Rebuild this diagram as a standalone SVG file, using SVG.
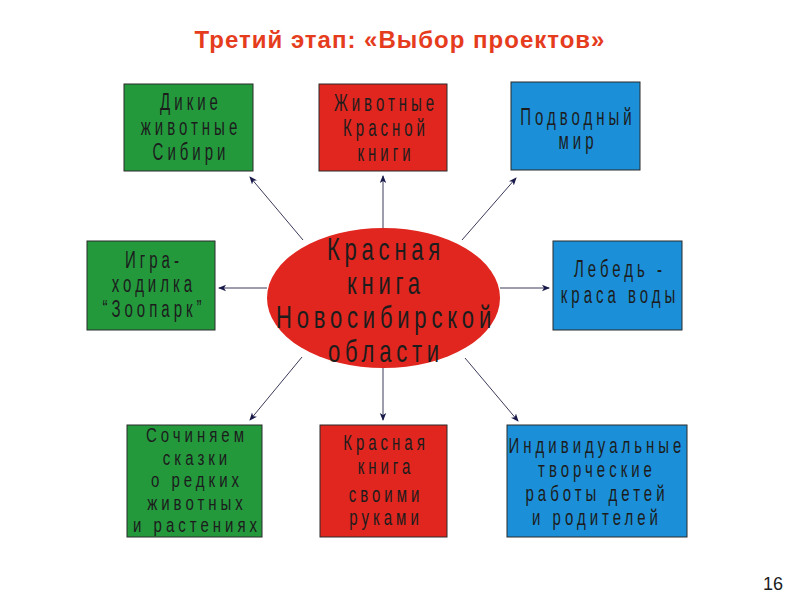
<svg xmlns="http://www.w3.org/2000/svg" width="800" height="600" viewBox="0 0 800 600">
<defs>
<style>
.t{font-family:"Liberation Sans",Arial,sans-serif;font-size:15px;fill:#1c1c1c;text-anchor:middle;letter-spacing:4px}
.e{font-family:"Liberation Sans",Arial,sans-serif;font-size:22px;fill:#1c1c1c;text-anchor:middle;letter-spacing:4.8px}
.g{fill:#23993c;stroke:#2a2a2a;stroke-width:1}
.r{fill:#e0261f;stroke:#2a2a2a;stroke-width:1}
.b{fill:#1b90d8;stroke:#2a2a2a;stroke-width:1}
.c{stroke:#3a3a5a;stroke-width:1;fill:none;marker-end:url(#ah)}
</style>
<marker id="ah" markerWidth="8" markerHeight="8" refX="7" refY="4" orient="auto" markerUnits="userSpaceOnUse">
<path d="M0,0.8 L8,4 L0,7.2 L2,4 Z" fill="#1a1a4a"/>
</marker>
</defs>
<rect width="800" height="600" fill="#ffffff"/>
<text x="400" y="48" text-anchor="middle" font-family="Liberation Sans,Arial,sans-serif" font-size="24" font-weight="bold" letter-spacing="1" fill="#e63c1e">Третий этап: «Выбор проектов»</text>

<g id="connectors">
<line class="c" x1="303" y1="240" x2="250" y2="177"/>
<line class="c" x1="383" y1="228" x2="383" y2="176"/>
<line class="c" x1="462" y1="240" x2="516" y2="178"/>
<line class="c" x1="267" y1="288" x2="219" y2="288"/>
<line class="c" x1="500" y1="288" x2="549" y2="288"/>
<line class="c" x1="302" y1="357" x2="250" y2="420"/>
<line class="c" x1="383" y1="368" x2="383" y2="420"/>
<line class="c" x1="465" y1="358" x2="518" y2="421"/>
</g>

<g id="center">
<ellipse cx="383.5" cy="298" rx="116.5" ry="70" fill="#e0261f"/>
<text class="e" transform="translate(386 260) scale(1 1.45)">Красная</text>
<text class="e" transform="translate(386 294) scale(1 1.45)">книга</text>
<text class="e" transform="translate(386 328) scale(1 1.45)">Новосибирской</text>
<text class="e" transform="translate(386 362) scale(1 1.45)">области</text>
</g>

<g id="n1">
<rect class="g" x="124" y="84" width="129" height="87"/>
<text class="t" transform="translate(191 110) scale(1 1.55)">Дикие</text>
<text class="t" transform="translate(191 135) scale(1 1.55)">животные</text>
<text class="t" transform="translate(191 160) scale(1 1.55)">Сибири</text>
</g>

<g id="n2">
<rect class="r" x="319" y="84" width="128" height="87"/>
<text class="t" transform="translate(386 111) scale(1 1.55)">Животные</text>
<text class="t" transform="translate(386 136) scale(1 1.55)">Красной</text>
<text class="t" transform="translate(386 161) scale(1 1.55)">книги</text>
</g>

<g id="n3">
<rect class="b" x="511" y="82" width="129" height="88"/>
<text class="t" transform="translate(578 125) scale(1 1.55)">Подводный</text>
<text class="t" transform="translate(578 149) scale(1 1.55)">мир</text>
</g>

<g id="n4">
<rect class="g" x="87" y="241" width="128" height="89"/>
<text class="t" transform="translate(154 268) scale(1 1.55)">Игра-</text>
<text class="t" transform="translate(154 292) scale(1 1.55)">ходилка</text>
<text class="t" transform="translate(154 317) scale(1 1.55)">“Зоопарк”</text>
</g>

<g id="n6">
<rect class="b" x="553" y="241" width="129" height="89"/>
<text class="t" transform="translate(620 277) scale(1 1.55)">Лебедь -</text>
<text class="t" transform="translate(620 303) scale(1 1.55)">краса воды</text>
</g>

<g id="n7">
<rect class="g" x="127" y="425" width="135" height="112"/>
<text class="t" transform="translate(197 442) scale(1 1.35)">Сочиняем</text>
<text class="t" transform="translate(197 465) scale(1 1.35)">сказки</text>
<text class="t" transform="translate(197 487) scale(1 1.35)">о редких</text>
<text class="t" transform="translate(197 510) scale(1 1.35)">животных</text>
<text class="t" transform="translate(197 532) scale(1 1.35)">и растениях</text>
</g>

<g id="n8">
<rect class="r" x="320" y="425" width="127" height="112"/>
<text class="t" transform="translate(386 450) scale(1 1.45)">Красная</text>
<text class="t" transform="translate(386 474) scale(1 1.45)">книга</text>
<text class="t" transform="translate(386 502) scale(1 1.45)">своими</text>
<text class="t" transform="translate(386 525) scale(1 1.45)">руками</text>
</g>

<g id="n9">
<rect class="b" x="507" y="425" width="180" height="112"/>
<text class="t" transform="translate(597 453) scale(1 1.5)">Индивидуальные</text>
<text class="t" transform="translate(597 477) scale(1 1.5)">творческие</text>
<text class="t" transform="translate(597 501) scale(1 1.5)">работы детей</text>
<text class="t" transform="translate(597 525) scale(1 1.5)">и родителей</text>
</g>

<text x="773" y="590" text-anchor="middle" font-family="Liberation Sans,Arial,sans-serif" font-size="18" fill="#1c1c1c">16</text>
</svg>
